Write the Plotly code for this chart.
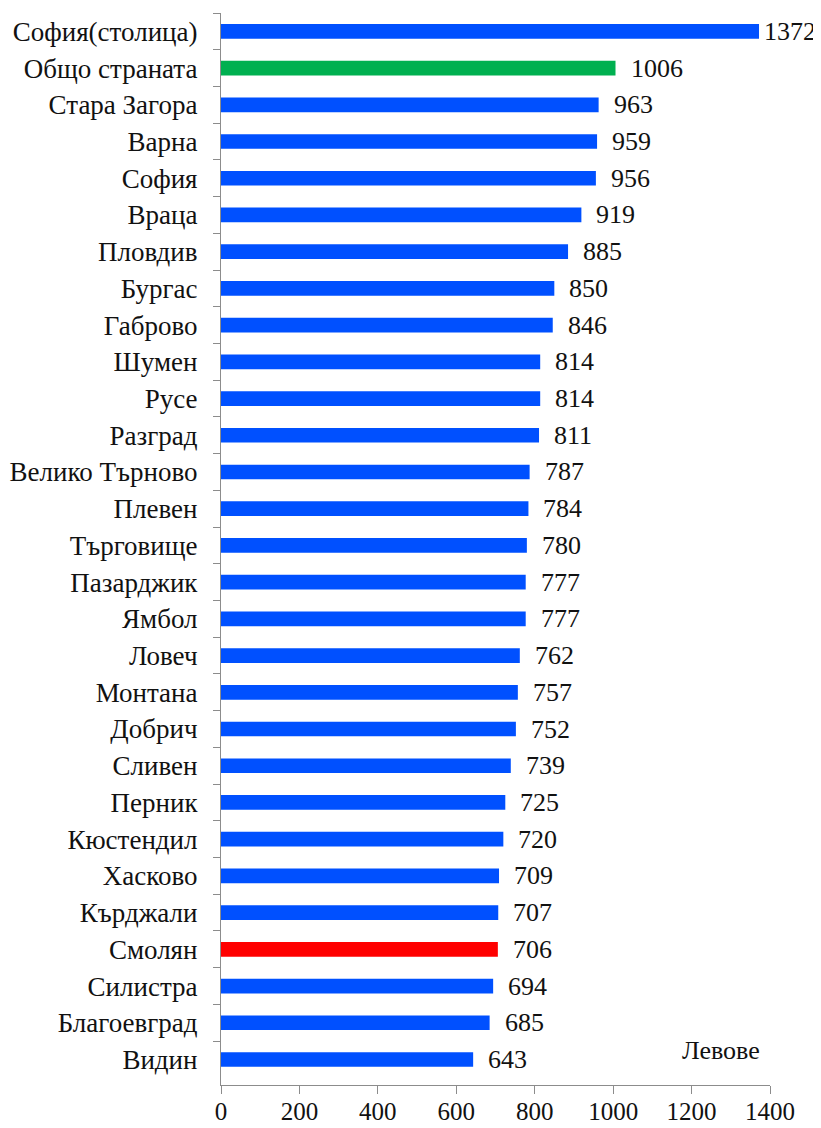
import plotly.graph_objects as go

regions = ["София(столица)", "Общо страната", "Стара Загора", "Варна", "София", "Враца",
           "Пловдив", "Бургас", "Габрово", "Шумен", "Русе", "Разград", "Велико Търново",
           "Плевен", "Търговище", "Пазарджик", "Ямбол", "Ловеч", "Монтана", "Добрич",
           "Сливен", "Перник", "Кюстендил", "Хасково", "Кърджали", "Смолян", "Силистра",
           "Благоевград", "Видин"]
values = [1372, 1006, 963, 959, 956, 919, 885, 850, 846, 814, 814, 811, 787, 784, 780,
          777, 777, 762, 757, 752, 739, 725, 720, 709, 707, 706, 694, 685, 643]
x_ticks = [0, 200, 400, 600, 800, 1000, 1200, 1400]
unit_label = "Левове"

BLUE = "#0050FF"
colors = []
for r in regions:
    if r == "Общо страната":
        colors.append("#00B050")
    elif r == "Смолян":
        colors.append("#FF0000")
    else:
        colors.append(BLUE)

FONT = "Liberation Serif"
TXT = "#111111"
AX = "#8c8c8c"

fig = go.Figure()
fig.add_trace(go.Bar(
    y=regions, x=values, orientation="h",
    marker=dict(color=colors, line=dict(width=0)),
    width=0.4,
    hoverinfo="x+y",
))

for i, (r, v) in enumerate(zip(regions, values)):
    fig.add_annotation(
        x=v, y=r, text=str(v), showarrow=False, xanchor="left", yanchor="middle",
        xshift=3 if i == 0 else 13, yshift=0,
        font=dict(family=FONT, size=26, color=TXT),
    )

fig.add_annotation(
    x=1400, y=regions[-1], text=unit_label, showarrow=False,
    xanchor="right", yanchor="middle", xshift=-8, yshift=9,
    font=dict(family=FONT, size=26, color=TXT),
)

# page body has an 8px default margin, compensate so plot area lands at the same spot
fig.update_layout(
    width=813, height=1120,
    margin=dict(l=213, r=51, t=5, b=43, autoexpand=False),
    paper_bgcolor="white", plot_bgcolor="white",
    showlegend=False,
    font=dict(family=FONT, size=26, color=TXT),
    xaxis=dict(
        range=[0, 1400], tickvals=x_ticks, ticktext=[str(t) for t in x_ticks],
        showgrid=False, zeroline=False, automargin=False,
        showline=True, linecolor=AX, linewidth=1.2,
        ticks="outside", ticklen=8, tickcolor=AX, tickwidth=1.2,
        ticklabelstandoff=-4,
        tickfont=dict(family=FONT, size=25, color=TXT),
    ),
    yaxis=dict(
        type="category", autorange="reversed", automargin=False,
        showgrid=False, zeroline=False,
        showline=True, linecolor=AX, linewidth=1.2,
        ticks="outside", ticklen=7, tickcolor=AX, tickwidth=1.2,
        tickson="boundaries",
        ticklabelstandoff=17,
        tickfont=dict(family=FONT, size=27, color=TXT),
    ),
)

fig.write_html("out.html")
